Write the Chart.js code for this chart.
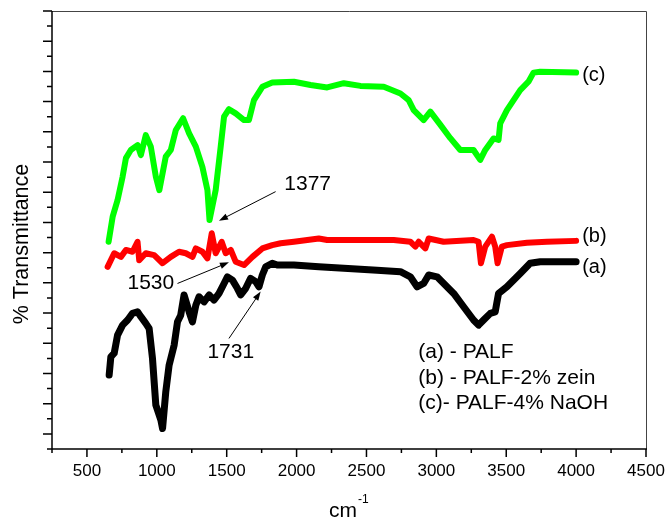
<!DOCTYPE html>
<html>
<head>
<meta charset="utf-8">
<title>FTIR spectra</title>
<script src="https://cdn.jsdelivr.net/npm/chart.js@4.4.1/dist/chart.umd.min.js"></script>
<style>
  html, body { margin: 0; padding: 0; background: #fff; }
  #wrap { width: 669px; height: 521px; }
</style>
</head>
<body>
<div id="wrap"><canvas id="myChart" width="669" height="521"></canvas></div>
<script>
// wavenumber (cm-1) and transmittance (arb. units) for each sample
const wnA = [659, 671, 695, 719, 755, 791, 826, 862, 886, 921, 945, 969, 993, 1029, 1041, 1064, 1088, 1124, 1148, 1171,
  1195, 1231, 1255, 1279, 1302, 1338, 1374, 1409, 1445, 1481, 1505, 1541, 1576, 1600, 1636, 1671, 1707, 1731, 1755, 1779,
  1826, 1862, 1981, 2159, 2338, 2576, 2743, 2814, 2862, 2909, 2945, 3005, 3124, 3195, 3266, 3302, 3338, 3386, 3421, 3445,
  3505, 3600, 3671, 3743, 4000];
const tA = [2.95, 3.55, 3.67, 4.27, 4.60, 4.77, 4.99, 5.04, 4.88, 4.66, 4.49, 3.50, 1.95, 1.46, 1.18, 2.39, 3.28, 3.94, 4.71, 4.93,
  5.60, 5.04, 4.71, 5.26, 5.54, 5.37, 5.60, 5.43, 5.65, 5.98, 6.20, 6.09, 5.82, 5.60, 5.82, 6.15, 6.04, 5.87, 6.26, 6.53,
  6.65, 6.59, 6.59, 6.53, 6.48, 6.42, 6.37, 6.20, 5.87, 5.98, 6.26, 6.20, 5.65, 5.21, 4.77, 4.60, 4.77, 4.99, 5.04, 5.65,
  5.87, 6.31, 6.65, 6.70, 6.70];

const wnB = [648, 695, 743, 779, 826, 862, 874, 921, 981, 1041, 1100, 1159, 1207, 1255, 1279, 1326, 1362, 1393, 1421, 1464,
  1493, 1529, 1564, 1624, 1684, 1755, 1826, 1886, 1981, 2159, 2219, 2457, 2695, 2814, 2850, 2874, 2921, 2945, 3052, 3266,
  3302, 3319, 3350, 3398, 3421, 3438, 3469, 3505, 3648, 3791, 4000];
const tB = [6.53, 6.98, 6.86, 7.09, 7.03, 7.36, 6.75, 6.98, 6.92, 6.65, 6.86, 7.03, 6.98, 6.86, 7.14, 7.03, 6.81, 7.64, 6.98, 7.36,
  6.98, 7.09, 6.70, 6.59, 6.86, 7.14, 7.25, 7.31, 7.36, 7.47, 7.42, 7.42, 7.42, 7.36, 7.20, 7.36, 7.14, 7.47, 7.36, 7.42,
  7.36, 6.65, 7.20, 7.53, 7.20, 6.65, 7.20, 7.25, 7.33, 7.36, 7.39];

const wnC = [655, 684, 719, 755, 779, 814, 862, 886, 921, 957, 993, 1018, 1064, 1100, 1136, 1188, 1231, 1279, 1326, 1362,
  1377, 1421, 1457, 1481, 1516, 1564, 1624, 1659, 1695, 1755, 1826, 1981, 2100, 2219, 2338, 2457, 2624, 2743, 2802, 2838,
  2909, 2957, 3029, 3100, 3171, 3266, 3314, 3350, 3409, 3445, 3457, 3505, 3600, 3659, 3695, 3743, 4000];
const tC = [7.36, 8.19, 8.74, 9.51, 10.13, 10.40, 10.56, 10.23, 10.89, 10.51, 9.51, 9.07, 10.18, 10.40, 11.06, 11.45, 10.95, 10.51, 9.84, 9.07,
  8.08, 9.07, 10.51, 11.50, 11.75, 11.61, 11.39, 11.39, 12.05, 12.49, 12.63, 12.66, 12.55, 12.47, 12.61, 12.52, 12.49, 12.27, 12.05, 11.72,
  11.39, 11.67, 11.23, 10.79, 10.40, 10.40, 10.07, 10.40, 10.78, 10.73, 11.28, 11.72, 12.38, 12.66, 12.96, 12.99, 12.96];

const seriesTags = ['(a)', '(b)', '(c)'];
const sampleNames = ['(a) - PALF', '(b) - PALF-2% zein', '(c)- PALF-4% NaOH'];
const peakLabels = ['1377', '1530', '1731'];
const xTickLabels = [500, 1000, 1500, 2000, 2500, 3000, 3500, 4000, 4500];

const FONT = '"Liberation Sans", Arial, sans-serif';

function pairs(xs, ys) {
  return xs.map((x, i) => ({ x: x, y: ys[i] }));
}

// where the tags, peak callouts and sample list sit (data units)
const tagPos = [[4043, 6.52], [4043, 7.52], [4043, 12.88]];
const peakArrows = [
  { text: [2079, 9.27], from: [1850, 9.02], to: [1445, 8.06] },
  { text: [957, 6.0], from: [1148, 5.98], to: [1516, 6.68] },
  { text: [1529, 3.71], from: [1516, 4.16], to: [1743, 5.71] }
];
const namesPos = [2871, 3.71];
const nameStep = 0.85;

function arrow(ctx, x1, y1, x2, y2) {
  const ang = Math.atan2(y2 - y1, x2 - x1);
  const len = 9, half = 3.2;
  ctx.beginPath();
  ctx.moveTo(x1, y1);
  ctx.lineTo(x2 - Math.cos(ang) * len * 0.8, y2 - Math.sin(ang) * len * 0.8);
  ctx.stroke();
  ctx.beginPath();
  ctx.moveTo(x2, y2);
  ctx.lineTo(x2 - Math.cos(ang) * len + Math.sin(ang) * half, y2 - Math.sin(ang) * len - Math.cos(ang) * half);
  ctx.lineTo(x2 - Math.cos(ang) * len - Math.sin(ang) * half, y2 - Math.sin(ang) * len + Math.cos(ang) * half);
  ctx.closePath();
  ctx.fill();
}

const decorations = {
  id: 'decorations',
  afterDraw(chart) {
    const { ctx, chartArea: a, scales: { x, y } } = chart;
    ctx.save();

    // top and right frame
    ctx.strokeStyle = '#444';
    ctx.lineWidth = 1;
    ctx.beginPath();
    ctx.moveTo(a.left, a.top + 0.5);
    ctx.lineTo(a.right + 0.5, a.top + 0.5);
    ctx.lineTo(a.right + 0.5, a.bottom);
    ctx.stroke();

    // left and bottom axes with major / minor ticks
    ctx.strokeStyle = '#000';
    ctx.lineWidth = 1.5;
    ctx.beginPath();
    ctx.moveTo(a.left, a.top);
    ctx.lineTo(a.left, a.bottom);
    ctx.lineTo(a.right + 1, a.bottom);
    for (let v = 250; v <= 4500; v += 250) {
      const px = x.getPixelForValue(v);
      ctx.moveTo(px, a.bottom);
      ctx.lineTo(px, a.bottom + (v % 500 === 0 ? 8 : 4));
    }
    for (let v = 0.5; v <= 15; v += 0.5) {
      const py = y.getPixelForValue(v);
      ctx.moveTo(a.left, py);
      ctx.lineTo(a.left - (v % 1 === 0 ? 9 : 5), py);
    }
    ctx.stroke();

    ctx.fillStyle = '#000';
    // axis titles
    ctx.font = '21.5px ' + FONT;
    ctx.textAlign = 'center';
    ctx.textBaseline = 'middle';
    ctx.save();
    ctx.translate(22, a.top + (a.bottom - a.top) / 2 + 14);
    ctx.rotate(-Math.PI / 2);
    ctx.fillText('% Transmittance', 0, 0);
    ctx.restore();

    const cx = (a.left + a.right) / 2 - 6;
    ctx.textAlign = 'left';
    ctx.textBaseline = 'alphabetic';
    ctx.font = '21px ' + FONT;
    const cmW = ctx.measureText('cm').width;
    ctx.fillText('cm', cx - cmW / 2, a.bottom + 68);
    ctx.font = '12px ' + FONT;
    ctx.fillText('-1', cx + cmW / 2 + 1, a.bottom + 54);

    // curve tags
    ctx.font = '20px ' + FONT;
    ctx.textBaseline = 'middle';
    seriesTags.forEach((t, i) => {
      ctx.fillText(t, x.getPixelForValue(tagPos[i][0]), y.getPixelForValue(tagPos[i][1]));
    });

    // peak callouts
    ctx.font = '21px ' + FONT;
    ctx.textAlign = 'center';
    ctx.lineWidth = 1;
    peakArrows.forEach((p, i) => {
      ctx.fillText(peakLabels[i], x.getPixelForValue(p.text[0]), y.getPixelForValue(p.text[1]));
      arrow(ctx, x.getPixelForValue(p.from[0]), y.getPixelForValue(p.from[1]),
        x.getPixelForValue(p.to[0]), y.getPixelForValue(p.to[1]));
    });

    // sample list
    ctx.textAlign = 'left';
    ctx.font = '21px ' + FONT;
    sampleNames.forEach((s, i) => {
      ctx.fillText(s, x.getPixelForValue(namesPos[0]), y.getPixelForValue(namesPos[1] - i * nameStep));
    });

    ctx.restore();
  }
};

const lineStyle = {
  showLine: true,
  pointRadius: 0,
  tension: 0,
  borderJoinStyle: 'round',
  borderCapStyle: 'round',
  fill: false
};

const data = {
  datasets: [
    { label: 'PALF', data: pairs(wnA, tA), borderColor: '#000000', borderWidth: 7, ...lineStyle },
    { label: 'PALF-2% zein', data: pairs(wnB, tB), borderColor: '#ff0000', borderWidth: 6, ...lineStyle },
    { label: 'PALF-4% NaOH', data: pairs(wnC, tC), borderColor: '#00ff00', borderWidth: 6, ...lineStyle }
  ]
};

const config = {
  type: 'scatter',
  data,
  options: {
    responsive: false,
    animation: false,
    layout: { padding: { top: 11, right: 23, left: 0, bottom: 0 } },
    plugins: { legend: { display: false }, tooltip: { enabled: false } },
    scales: {
      x: {
        type: 'linear',
        min: 250,
        max: 4500,
        grid: { display: false, drawTicks: false },
        border: { display: false },
        ticks: {
          padding: 12,
          color: '#000',
          font: { family: FONT, size: 17 },
          callback: (v) => String(v)
        },
        afterBuildTicks: (scale) => { scale.ticks = xTickLabels.map(v => ({ value: v })); },
        afterFit: (scale) => {
          scale.height = 72;
          scale.paddingLeft = 0;
          scale.paddingRight = 0;
        }
      },
      y: {
        type: 'linear',
        min: 0.5,
        max: 15,
        grid: { display: false, drawTicks: false },
        border: { display: false },
        ticks: { display: false },
        afterFit: (scale) => { scale.width = 52; }
      }
    }
  },
  plugins: [decorations]
};

const myChart = new Chart(document.getElementById('myChart'), config);
</script>
</body>
</html>
